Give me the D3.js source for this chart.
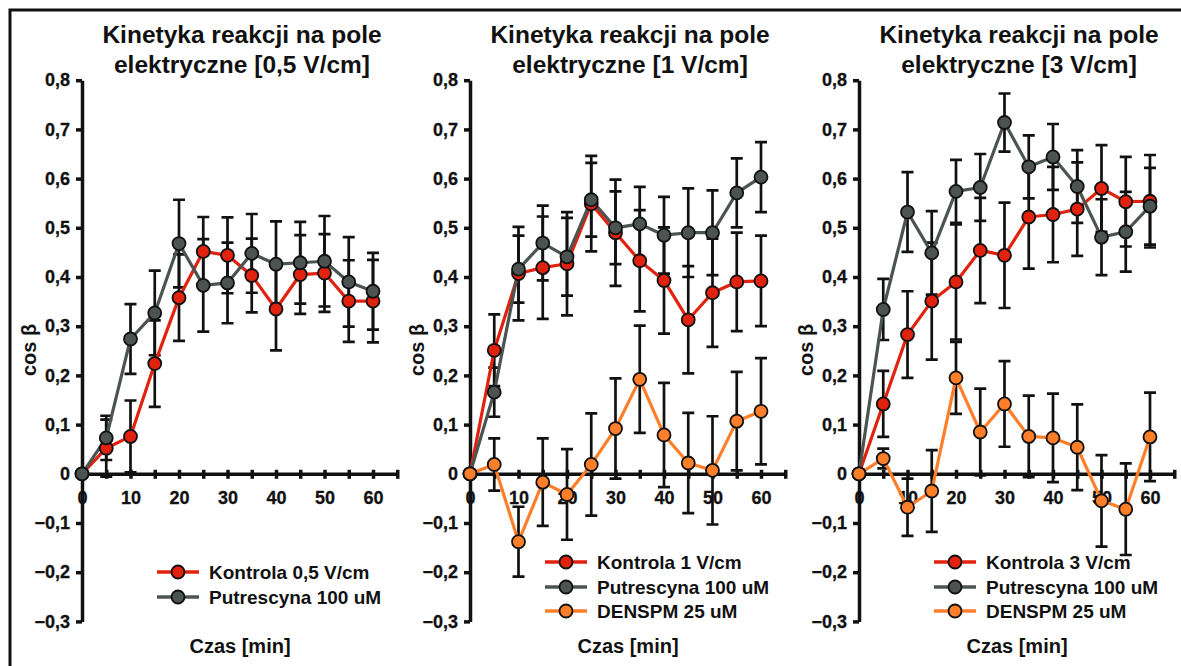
<!DOCTYPE html>
<html>
<head>
<meta charset="utf-8">
<script src="https://cdn.jsdelivr.net/npm/d3@7"></script>
<style>
  html, body { margin: 0; padding: 0; background: #fff; }
  svg { display: block; }
  text { font-family: "Liberation Sans", Arial, sans-serif; font-weight: bold; fill: #111; }
</style>
</head>
<body>
<svg id="chart" width="1181" height="666"></svg>
<script>
// Time points [min]
const times = [0, 5, 10, 15, 20, 25, 30, 35, 40, 45, 50, 55, 60];
const xTickValues = [0, 5, 10, 15, 20, 25, 30, 35, 40, 45, 50, 55, 60, 65];
const yTickValues = [-0.3, -0.2, -0.1, 0, 0.1, 0.2, 0.3, 0.4, 0.5, 0.6, 0.7, 0.8];

// 0,5 V/cm
const kontrola05     = [0, 0.052, 0.076, 0.224, 0.358, 0.452, 0.444, 0.403, 0.335, 0.405, 0.408, 0.351, 0.351];
const kontrola05Err  = [0, 0.058, 0.073, 0.088, 0.088, 0.070, 0.077, 0.075, 0.084, 0.080, 0.079, 0.083, 0.084];
const putrescyna05    = [0, 0.073, 0.274, 0.327, 0.468, 0.383, 0.388, 0.448, 0.426, 0.429, 0.432, 0.390, 0.371];
const putrescyna05Err = [0, 0.045, 0.071, 0.086, 0.089, 0.094, 0.082, 0.080, 0.087, 0.083, 0.092, 0.091, 0.078];

// 1 V/cm
const kontrola1     = [0, 0.251, 0.407, 0.419, 0.427, 0.549, 0.490, 0.433, 0.393, 0.313, 0.368, 0.390, 0.392];
const kontrola1Err  = [0, 0.073, 0.095, 0.104, 0.105, 0.097, 0.108, 0.103, 0.108, 0.109, 0.110, 0.100, 0.092];
const putrescyna1    = [0, 0.166, 0.416, 0.469, 0.441, 0.557, 0.500, 0.508, 0.485, 0.490, 0.490, 0.571, 0.603];
const putrescyna1Err = [0, 0.050, 0.068, 0.076, 0.079, 0.075, 0.074, 0.075, 0.078, 0.090, 0.086, 0.070, 0.071];
const denspm1    = [0, 0.019, -0.138, -0.017, -0.042, 0.019, 0.092, 0.192, 0.079, 0.022, 0.007, 0.107, 0.127];
const denspm1Err = [0, 0.053, 0.071, 0.089, 0.092, 0.104, 0.102, 0.109, 0.106, 0.102, 0.110, 0.100, 0.108];

// 3 V/cm
const kontrola3     = [0, 0.142, 0.283, 0.351, 0.390, 0.454, 0.444, 0.522, 0.527, 0.538, 0.580, 0.553, 0.554];
const kontrola3Err  = [0, 0.067, 0.088, 0.119, 0.117, 0.107, 0.107, 0.105, 0.097, 0.095, 0.088, 0.091, 0.094];
const putrescyna3    = [0, 0.334, 0.532, 0.449, 0.574, 0.582, 0.714, 0.624, 0.644, 0.584, 0.481, 0.492, 0.544];
const putrescyna3Err = [0, 0.062, 0.081, 0.085, 0.064, 0.068, 0.059, 0.064, 0.067, 0.074, 0.077, 0.081, 0.078];
const denspm3    = [0, 0.031, -0.068, -0.035, 0.195, 0.085, 0.142, 0.076, 0.073, 0.054, -0.055, -0.072, 0.075];
const denspm3Err = [0, 0.020, 0.058, 0.083, 0.073, 0.088, 0.087, 0.083, 0.090, 0.087, 0.093, 0.093, 0.090];

const titlesLine1 = ["Kinetyka reakcji na pole", "Kinetyka reakcji na pole", "Kinetyka reakcji na pole"];
const titlesLine2 = ["elektryczne [0,5 V/cm]", "elektryczne [1 V/cm]", "elektryczne [3 V/cm]"];
const legendNames = [
  ["Kontrola 0,5 V/cm", "Putrescyna 100 uM"],
  ["Kontrola 1 V/cm", "Putrescyna 100 uM", "DENSPM 25 uM"],
  ["Kontrola 3 V/cm", "Putrescyna 100 uM", "DENSPM 25 uM"]
];
const yAxisTitle = "cos β";
const xAxisTitle = "Czas [min]";

const colors = { kontrola: "#e0220e", putrescyna: "#4b5451", denspm: "#ff7e2a" };

const panels = [
  { series: [
      { key: "kontrola", values: kontrola05, err: kontrola05Err },
      { key: "putrescyna", values: putrescyna05, err: putrescyna05Err } ] },
  { series: [
      { key: "kontrola", values: kontrola1, err: kontrola1Err },
      { key: "putrescyna", values: putrescyna1, err: putrescyna1Err },
      { key: "denspm", values: denspm1, err: denspm1Err } ] },
  { series: [
      { key: "kontrola", values: kontrola3, err: kontrola3Err },
      { key: "putrescyna", values: putrescyna3, err: putrescyna3Err },
      { key: "denspm", values: denspm3, err: denspm3Err } ] }
];

const svg = d3.select("#chart");

// outer frame (top and left edges)
svg.append("path")
  .attr("d", "M10,666 L10,10 L1181,10")
  .attr("fill", "none").attr("stroke", "#111").attr("stroke-width", 3);

const axisOrigins = [82, 470, 859];
const legendRows = [[572, 597], [562, 587, 611], [562, 587, 611]];

const y = d3.scaleLinear().domain([-0.3, 0.8]).range([621.4, 80.2]);

panels.forEach((panel, pi) => {
  const ax = axisOrigins[pi];
  const x = d3.scaleLinear().domain([0, 65]).range([ax, ax + 65 * 4.85]);
  const g = svg.append("g");

  // title
  const title = g.append("text").attr("text-anchor", "middle").style("font-size", "24.5px");
  title.append("tspan").attr("x", ax + 160).attr("y", 43).text(titlesLine1[pi]);
  title.append("tspan").attr("x", ax + 160).attr("y", 73).text(titlesLine2[pi]);

  // y axis
  const yAxis = g.append("g").attr("transform", `translate(${x(0)},0)`)
    .call(d3.axisLeft(y).tickValues(yTickValues).tickSizeInner(6).tickSizeOuter(0).tickPadding(6)
      .tickFormat(d => d3.format(".1f")(d).replace(".", ",").replace(/^-?0,0$/, "0")));
  yAxis.select(".domain").attr("stroke", "#111").attr("stroke-width", 3.5);
  yAxis.selectAll(".tick line").attr("stroke", "#111").attr("stroke-width", 3.5);
  yAxis.selectAll(".tick text").style("font-size", "18px").attr("fill", "#111")
    .attr("stroke", "#111").attr("stroke-width", 0.3);

  // x axis along y = 0
  const xAxis = g.append("g").attr("transform", `translate(0,${y(0)})`)
    .call(d3.axisBottom(x).tickValues(xTickValues).tickSizeInner(5).tickSizeOuter(0).tickPadding(0)
      .tickFormat(d => (d % 10 === 0 && d <= 60) ? String(d) : ""));
  xAxis.select(".domain").attr("stroke", "#111").attr("stroke-width", 3.5);
  xAxis.selectAll(".tick line").attr("y1", -4).attr("y2", 5).attr("stroke", "#111").attr("stroke-width", 3.5);
  xAxis.selectAll(".tick text").attr("y", 30).attr("dy", null).style("font-size", "18px").attr("fill", "#111")
    .attr("stroke", "#111").attr("stroke-width", 0.3);

  // axis titles
  g.append("text")
    .attr("transform", `translate(${ax - 53.5},350) rotate(-90)`)
    .attr("text-anchor", "middle").attr("dy", "0.35em")
    .style("font-size", "20px").text(yAxisTitle);
  g.append("text")
    .attr("x", ax + 158).attr("y", 653).attr("text-anchor", "middle")
    .style("font-size", "20px").text(xAxisTitle);

  // error bars
  const capW = 6;
  panel.series.forEach(s => {
    const eb = g.append("g").attr("stroke", "#111").attr("stroke-width", 2.7).attr("fill", "none");
    times.forEach((t, i) => {
      if (s.err[i] <= 0) return;
      const cx = x(t), y1 = y(s.values[i] + s.err[i]), y2 = y(s.values[i] - s.err[i]);
      eb.append("path")
        .attr("d", `M${cx},${y1}V${y2}M${cx - capW},${y1}H${cx + capW}M${cx - capW},${y2}H${cx + capW}`);
    });
  });

  // lines and markers
  const line = d3.line().x((d, i) => x(times[i])).y(d => y(d));
  panel.series.forEach(s => {
    g.append("path").datum(s.values)
      .attr("d", line).attr("fill", "none")
      .attr("stroke", colors[s.key]).attr("stroke-width", 3.2).attr("stroke-linejoin", "round");
  });
  panel.series.forEach(s => {
    g.append("g").selectAll("circle").data(s.values).join("circle")
      .attr("cx", (d, i) => x(times[i])).attr("cy", d => y(d)).attr("r", 6.5)
      .attr("fill", colors[s.key]).attr("stroke", "#111").attr("stroke-width", 1.8);
  });

  // legend
  panel.series.forEach((s, si) => {
    const ry = legendRows[pi][si];
    const lg = g.append("g");
    lg.append("line").attr("x1", ax + 75).attr("x2", ax + 117).attr("y1", ry).attr("y2", ry)
      .attr("stroke", colors[s.key]).attr("stroke-width", 3.5);
    lg.append("circle").attr("cx", ax + 96).attr("cy", ry).attr("r", 6.5)
      .attr("fill", colors[s.key]).attr("stroke", "#111").attr("stroke-width", 1.8);
    lg.append("text").attr("x", ax + 127).attr("y", ry + 7)
      .style("font-size", "19px").text(legendNames[pi][si]);
  });
});
</script>
</body>
</html>
